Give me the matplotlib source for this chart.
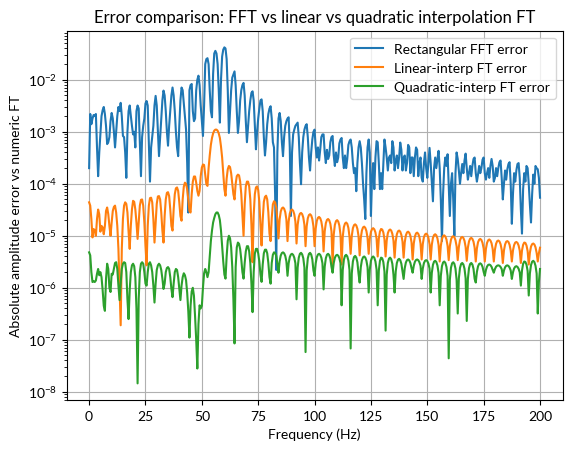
import numpy as np
import matplotlib
matplotlib.use("Agg")
import matplotlib.pyplot as plt

plt.rcParams['font.family'] = ['Lato', 'DejaVu Sans']
plt.rcParams['mathtext.fontset'] = 'custom'
plt.rcParams['mathtext.rm'] = 'Lato'
plt.rcParams['mathtext.it'] = 'Lato:italic'
plt.rcParams['mathtext.bf'] = 'Lato:bold'
plt.rcParams['axes.unicode_minus'] = True

# Frequency grid (Hz), 0.5 Hz spacing from 0 to 200
freq_step = 0.5
n_points = 401

# Rectangular FFT error (blue)
rect_err = [
    2.0e-4, 2.2e-3, 1.4e-3, 1.8e-3, 2.1e-3, 2.0e-3, 2.2e-3, 5.0e-4,
    1.4e-4, 4.0e-4, 8.9e-4, 2.0e-3, 2.6e-3, 3.0e-3, 2.2e-3, 1.3e-3,
    5.8e-4, 6.3e-4, 7.9e-4, 1.6e-3, 2.3e-3, 1.8e-3, 1.0e-3, 5.0e-4,
    1.0e-3, 2.0e-3, 3.0e-3, 2.5e-3, 3.6e-3, 2.0e-3, 8.3e-4, 7.9e-4,
    4.0e-4, 1.3e-4, 1.0e-3, 2.5e-3, 3.2e-3, 2.0e-3, 1.3e-3, 8.9e-4,
    1.0e-3, 5.0e-4, 2.5e-3, 3.2e-3, 2.8e-3, 6.3e-4, 1.4e-4, 7.9e-4,
    1.3e-3, 1.8e-3, 3.5e-3, 3.9e-3, 3.2e-3, 6.3e-4, 1.1e-4, 5.0e-4,
    7.9e-4, 1.3e-3, 3.2e-3, 4.9e-3, 3.2e-3, 1.0e-3, 3.4e-4, 7.9e-4,
    1.8e-3, 4.0e-3, 6.2e-3, 5.0e-3, 2.5e-3, 1.0e-3, 5.4e-4, 1.3e-3,
    2.5e-3, 5.0e-3, 7.1e-3, 5.0e-3, 2.5e-3, 1.0e-3, 5.0e-4, 3.4e-4,
    1.3e-3, 4.0e-3, 7.1e-3, 6.3e-3, 3.5e-3, 2.0e-3, 1.1e-3, 2.5e-4,
    2.8e-5, 6.3e-3, 7.9e-3, 8.3e-3, 2.5e-3, 1.6e-3, 1.8e-3, 6.3e-3,
    1.0e-2, 1.2e-2, 7.9e-3, 3.2e-3, 1.6e-3, 8.3e-4, 3.2e-3, 2.0e-2,
    2.5e-2, 2.6e-2, 2.0e-2, 6.3e-3, 2.5e-3, 1.9e-3, 1.3e-2, 3.2e-2,
    3.6e-2, 3.2e-2, 2.0e-2, 6.3e-3, 1.5e-3, 1.0e-2, 2.8e-2, 3.8e-2,
    4.2e-2, 4.0e-2, 2.5e-2, 6.3e-3, 9.5e-4, 2.5e-3, 6.3e-3, 1.1e-2,
    1.26e-2, 1.45e-2, 7.9e-3, 2.5e-3, 9.5e-4, 1.6e-3, 4.0e-3, 6.3e-3,
    7.9e-3, 8.7e-3, 5.0e-3, 1.6e-3, 6.3e-4, 1.3e-3, 2.5e-3, 4.0e-3,
    5.6e-3, 6.0e-3, 4.0e-3, 1.3e-3, 4.6e-4, 1.0e-3, 1.8e-3, 2.8e-3,
    4.0e-3, 4.2e-3, 2.5e-3, 7.9e-4, 3.5e-4, 6.3e-4, 1.4e-3, 2.2e-3,
    2.8e-3, 3.1e-3, 1.8e-3, 6.3e-4, 5.0e-4, 6.3e-5, 2.2e-6, 4.0e-4,
    1.8e-3, 2.3e-3, 1.6e-3, 6.3e-4, 3.4e-4, 7.9e-4, 1.3e-3, 1.6e-3,
    1.8e-3, 1.9e-3, 5.0e-4, 2.4e-5, 4.0e-4, 8.9e-4, 1.1e-3, 1.3e-3,
    1.4e-3, 1.5e-3, 7.9e-4, 2.5e-4, 9.8e-5, 4.0e-4, 7.9e-4, 1.1e-3,
    1.3e-3, 1.4e-3, 7.9e-4, 3.2e-4, 1.8e-4, 4.0e-4, 7.1e-4, 1.0e-3,
    1.1e-3, 5.0e-4, 3.2e-4, 5.0e-4, 2.8e-4, 4.5e-4, 7.9e-4, 8.9e-4,
    8.9e-4, 4.0e-4, 2.5e-4, 4.5e-4, 3.0e-4, 3.5e-4, 6.3e-4, 7.9e-4,
    8.3e-4, 3.5e-4, 2.2e-4, 4.0e-4, 2.6e-4, 3.2e-4, 6.0e-4, 7.1e-4,
    7.6e-4, 3.2e-4, 2.0e-4, 3.5e-4, 2.0e-4, 3.0e-4, 5.6e-4, 6.6e-4,
    7.1e-4, 5.0e-4, 2.5e-4, 1.6e-4, 2.0e-4, 7.2e-5, 2.5e-4, 5.0e-4,
    6.6e-4, 5.0e-4, 2.5e-4, 1.0e-4, 5.0e-5, 2.1e-5, 1.6e-4, 5.0e-4,
    7.1e-4, 4.0e-4, 2.4e-5, 1.3e-4, 2.5e-4, 7.9e-5, 3.2e-4, 6.6e-4,
    6.3e-4, 2.5e-4, 7.9e-5, 1.6e-4, 7.9e-5, 2.5e-4, 7.1e-4, 5.0e-4,
    3.2e-4, 1.8e-4, 3.2e-4, 3.5e-4, 2.5e-4, 6.6e-4, 5.0e-4, 1.8e-4,
    2.8e-4, 3.5e-4, 2.0e-4, 3.2e-4, 6.2e-4, 4.5e-4, 1.8e-4, 3.2e-4,
    3.5e-4, 1.8e-4, 2.5e-4, 5.6e-4, 5.0e-4, 1.6e-4, 3.2e-4, 3.2e-4,
    1.4e-4, 3.2e-4, 5.0e-4, 4.5e-4, 1.4e-4, 2.5e-4, 3.2e-4, 1.3e-4,
    1.1e-4, 2.5e-4, 4.0e-4, 2.0e-4, 1.3e-4, 2.5e-4, 4.9e-4, 2.5e-4,
    1.05e-4, 4.6e-5, 2.0e-4, 3.2e-4, 2.0e-4, 3.0e-4, 4.3e-4, 2.0e-4,
    5.0e-5, 7.9e-6, 6.3e-5, 2.0e-4, 3.2e-4, 2.2e-4, 3.7e-4, 1.0e-4,
    2.4e-5, 1.0e-4, 1.6e-4, 5.0e-5, 1.0e-5, 1.6e-4, 4.0e-4, 3.0e-4,
    1.8e-4, 1.0e-4, 1.6e-4, 2.4e-4, 1.6e-4, 2.8e-4, 3.8e-4, 2.0e-4,
    1.2e-4, 1.6e-4, 2.2e-4, 1.4e-4, 2.2e-4, 3.0e-4, 3.2e-4, 1.6e-4,
    1.1e-4, 1.5e-4, 2.2e-4, 1.6e-4, 2.0e-4, 2.9e-4, 3.2e-4, 1.6e-4,
    1.2e-4, 1.6e-4, 2.0e-4, 1.3e-4, 2.2e-4, 3.0e-4, 2.2e-4, 1.1e-4,
    1.3e-4, 2.0e-4, 1.4e-4, 2.0e-4, 2.6e-4, 2.8e-4, 1.3e-4, 5.0e-5,
    1.0e-4, 1.8e-4, 1.2e-4, 1.9e-4, 2.4e-4, 2.6e-4, 1.0e-4, 1.7e-5,
    6.3e-5, 1.6e-4, 1.1e-4, 1.8e-4, 2.4e-4, 2.5e-4, 1.3e-4, 3.2e-5,
    1.1e-5, 7.9e-5, 1.6e-4, 1.1e-4, 2.2e-4, 2.0e-4, 1.0e-4, 4.0e-5,
    1.8e-5, 6.3e-5, 1.5e-4, 1.0e-4, 2.2e-4, 2.0e-4, 1.9e-4, 1.3e-4,
    5.4e-5,
]

# Linear-interpolation FT error (orange)
lin_err = [
    4.4e-5, 3.8e-5, 2.1e-5, 9.3e-6, 1.35e-5, 1.26e-5, 1.0e-5, 2.1e-5,
    3.2e-5, 2.6e-5, 1.2e-5, 1.55e-5, 1.45e-5, 1.07e-5, 1.55e-5, 3.0e-5,
    3.5e-5, 2.6e-5, 1.55e-5, 1.0e-5, 1.8e-5, 3.0e-5, 3.6e-5, 3.8e-5,
    2.8e-5, 1.55e-5, 5.6e-6, 1.1e-6, 1.9e-7, 5.6e-6, 2.1e-5, 3.8e-5,
    4.4e-5, 4.1e-5, 2.8e-5, 1.2e-5, 5.6e-6, 1.55e-5, 3.2e-5, 4.7e-5,
    4.5e-5, 3.2e-5, 1.8e-5, 8.7e-6, 1.8e-5, 3.8e-5, 4.9e-5, 5.0e-5,
    3.8e-5, 1.8e-5, 6.5e-6, 2.7e-6, 1.55e-5, 3.8e-5, 5.3e-5, 5.4e-5,
    4.4e-5, 2.1e-5, 7.4e-6, 1.8e-5, 4.1e-5, 5.7e-5, 5.8e-5, 5.0e-5,
    2.8e-5, 1.26e-5, 7.4e-6, 2.4e-5, 5.0e-5, 6.7e-5, 6.9e-5, 5.8e-5,
    3.2e-5, 1.55e-5, 1.26e-5, 3.2e-5, 6.3e-5, 8.2e-5, 8.5e-5, 7.3e-5,
    4.4e-5, 2.4e-5, 1.95e-5, 5.0e-5, 8.8e-5, 1.05e-4, 1.0e-4, 7.8e-5,
    5.0e-5, 3.0e-5, 2.8e-5, 6.3e-5, 1.1e-4, 1.38e-4, 1.38e-4, 1.05e-4,
    7.3e-5, 5.9e-5, 7.3e-5, 1.4e-4, 2.05e-4, 2.35e-4, 2.3e-4, 1.5e-4,
    9.8e-5, 9.1e-5, 2.0e-4, 3.5e-4, 5.6e-4, 7.6e-4, 9.3e-4, 1.05e-3,
    1.1e-3, 1.1e-3, 1.05e-3, 9.3e-4, 7.6e-4, 5.2e-4, 3.2e-4, 1.6e-4,
    7.9e-5, 5.9e-5, 1.26e-4, 1.9e-4, 2.2e-4, 2.1e-4, 1.6e-4, 1.0e-4,
    6.3e-5, 5.0e-5, 1.0e-4, 1.4e-4, 1.5e-4, 1.45e-4, 1.1e-4, 6.3e-5,
    2.5e-5, 1.0e-5, 4.0e-5, 8.9e-5, 1.1e-4, 1.1e-4, 8.9e-5, 5.0e-5,
    1.6e-5, 3.1e-6, 2.5e-5, 6.3e-5, 8.5e-5, 8.9e-5, 7.6e-5, 4.5e-5,
    1.6e-5, 6.5e-6, 2.0e-5, 4.5e-5, 5.6e-5, 5.9e-5, 5.0e-5, 2.8e-5,
    1.1e-5, 7.9e-6, 2.2e-5, 4.0e-5, 4.6e-5, 4.4e-5, 3.5e-5, 2.0e-5,
    8.9e-6, 20.6e-6, 29.3e-6, 33.7e-6, 35.0e-6, 33.2e-6, 28.5e-6, 20.6e-6,
    7.9e-6, 18.7e-6, 26.7e-6, 30.8e-6, 32.0e-6, 30.3e-6, 26.0e-6, 18.7e-6,
    7.1e-6, 16.3e-6, 23.0e-6, 26.5e-6, 27.5e-6, 26.1e-6, 22.4e-6, 16.3e-6,
    6.3e-6, 15.2e-6, 21.7e-6, 25.0e-6, 26.0e-6, 24.6e-6, 21.1e-6, 15.2e-6,
    6.3e-6, 13.8e-6, 19.3e-6, 22.2e-6, 23.0e-6, 21.8e-6, 18.8e-6, 13.8e-6,
    5.0e-6, 12.2e-6, 17.5e-6, 20.2e-6, 21.0e-6, 19.9e-6, 17.0e-6, 12.2e-6,
    2.8e-6, 10.5e-6, 16.2e-6, 19.1e-6, 20.0e-6, 18.8e-6, 15.7e-6, 10.5e-6,
    2.8e-6, 9.6e-6, 14.7e-6, 17.2e-6, 18.0e-6, 17.0e-6, 14.2e-6, 9.6e-6,
    4.5e-6, 9.9e-6, 14.0e-6, 16.0e-6, 16.6e-6, 15.8e-6, 13.6e-6, 9.9e-6,
    4.2e-6, 9.1e-6, 12.6e-6, 14.5e-6, 15.0e-6, 14.2e-6, 12.3e-6, 9.1e-6,
    4.5e-6, 8.8e-6, 11.9e-6, 13.5e-6, 14.0e-6, 13.3e-6, 11.6e-6, 8.8e-6,
    4.0e-6, 8.8e-6, 12.1e-6, 13.5e-6, 13.2e-6, 11.6e-6, 8.6e-6,
    4.0e-6, 8.1e-6, 11.2e-6, 12.7e-6, 13.2e-6, 12.6e-6, 10.9e-6, 8.1e-6,
    3.8e-6, 7.8e-6, 10.7e-6, 12.2e-6, 12.6e-6, 12.0e-6, 10.4e-6, 7.8e-6,
    3.8e-6, 7.5e-6, 10.2e-6, 11.6e-6, 12.0e-6, 11.4e-6, 10.0e-6, 7.5e-6,
    3.5e-6, 7.1e-6, 9.7e-6, 11.1e-6, 11.5e-6, 10.9e-6, 9.5e-6, 7.1e-6,
    3.5e-6, 6.9e-6, 9.4e-6, 10.6e-6, 11.0e-6, 10.5e-6, 9.1e-6, 6.9e-6,
    3.5e-6, 6.7e-6, 9.1e-6, 10.3e-6, 10.7e-6, 10.2e-6, 8.9e-6, 6.7e-6,
    3.2e-6, 6.4e-6, 8.7e-6, 9.9e-6, 10.2e-6, 9.7e-6, 8.5e-6, 6.4e-6,
    3.4e-6, 6.3e-6, 8.4e-6, 9.5e-6, 9.8e-6, 9.4e-6, 8.2e-6, 6.3e-6,
    3.4e-6, 6.1e-6, 8.2e-6, 9.2e-6, 9.5e-6, 9.1e-6, 8.0e-6, 6.1e-6,
    3.3e-6, 5.9e-6, 7.8e-6, 8.8e-6, 9.1e-6, 8.7e-6, 7.7e-6, 5.9e-6,
    3.2e-6, 5.7e-6, 7.5e-6, 8.4e-6, 8.7e-6, 8.3e-6, 7.3e-6, 5.7e-6,
    3.2e-6, 5.6e-6, 7.3e-6, 8.2e-6, 8.5e-6, 8.1e-6, 7.2e-6, 5.6e-6,
    3.2e-6, 5.4e-6, 7.0e-6, 7.9e-6, 8.1e-6, 7.8e-6, 6.9e-6, 5.4e-6,
    3.0e-6, 5.2e-6, 6.8e-6, 7.7e-6, 7.9e-6, 7.6e-6, 6.7e-6, 5.2e-6,
    3.2e-6, 5.2e-6, 6.6e-6, 7.4e-6, 7.6e-6, 7.3e-6, 6.5e-6, 5.2e-6,
    3.0e-6, 5.2e-6, 6.7e-6, 7.4e-6, 7.3e-6, 6.5e-6, 5.1e-6,
    2.8e-6, 4.7e-6, 6.2e-6, 6.9e-6, 7.1e-6, 6.8e-6, 6.0e-6, 4.7e-6,
    3.2e-6, 4.6e-6, 5.9e-6,
]

# Quadratic-interpolation FT error (green)
quad_err = [
    4.8e-6, 4.2e-6, 2.0e-6, 1.29e-6, 1.33e-6, 1.29e-6, 1.38e-6, 1.86e-6,
    2.3e-6, 1.74e-6, 2.0e-6, 1.6e-6, 9.0e-7, 4.5e-7, 3.6e-7, 1.5e-6,
    2.9e-6, 2.3e-6, 1.0e-6, 8.3e-7, 1.86e-6, 1.8e-6, 2.3e-6, 3.0e-6,
    3.1e-6, 2.3e-6, 1.1e-6, 5.8e-7, 1.2e-6, 2.3e-6, 2.9e-6, 3.1e-6,
    3.0e-6, 2.0e-6, 6.0e-7, 2.5e-7, 9.0e-7, 2.0e-6, 2.7e-6, 2.9e-6,
    2.6e-6, 1.6e-6, 4.0e-7, 1.45e-8, 6.2e-7, 2.0e-6, 2.9e-6, 3.1e-6,
    2.9e-6, 2.0e-6, 1.2e-6, 1.1e-6, 2.0e-6, 2.9e-6, 3.1e-6, 2.7e-6,
    2.0e-6, 1.1e-6, 5.2e-7, 1.2e-6, 2.2e-6, 2.7e-6, 2.9e-6, 2.7e-6,
    2.2e-6, 1.5e-6, 9.5e-7, 1.2e-6, 2.0e-6, 2.4e-6, 2.5e-6, 2.3e-6,
    1.6e-6, 9.5e-7, 6.6e-7, 1.2e-6, 2.0e-6, 2.3e-6, 2.2e-6, 1.6e-6,
    9.5e-7, 5.8e-7, 1.1e-6, 1.6e-6, 1.9e-6, 1.74e-6, 1.4e-6, 8.0e-7,
    3.5e-7, 1.1e-7, 4.5e-7, 8.5e-7, 1.0e-6, 7.0e-7, 2.8e-7, 1.0e-7,
    2.8e-8, 2.0e-7, 4.6e-7, 4.0e-7, 4.5e-7, 1.0e-6, 1.9e-6, 2.3e-6,
    2.0e-6, 1.6e-6, 2.0e-6, 4.0e-6, 7.9e-6, 1.26e-5, 1.8e-5, 2.2e-5,
    2.6e-5, 2.8e-5, 2.8e-5, 2.5e-5, 2.0e-5, 1.26e-5, 6.3e-6, 3.2e-6,
    1.8e-6, 1.5e-6, 4.0e-6, 8.0e-6, 1.0e-5, 9.0e-6, 6.0e-6, 2.5e-6,
    6.0e-7, 8.5e-8, 2.5e-6, 6.0e-6, 7.4e-6, 7.0e-6, 5.5e-6, 3.5e-6,
    2.0e-6, 1.5e-6, 3.0e-6, 5.0e-6, 6.3e-6, 6.3e-6, 5.0e-6, 3.0e-6,
    1.2e-6, 3.4e-7, 2.0e-6, 4.5e-6, 5.6e-6, 5.6e-6, 4.6e-6, 3.2e-6,
    1.8e-6, 1.3e-6, 2.8e-6, 4.6e-6, 5.4e-6, 5.4e-6, 4.6e-6, 3.0e-6,
    1.6e-6,
    1.2e-6, 3.0e-6, 4.3e-6, 4.8e-6, 4.7e-6, 4.1e-6, 2.9e-6,
    1.95e-6, 3.23e-6, 4.17e-6, 4.66e-6, 4.8e-6, 4.6e-6, 4.1e-6, 3.23e-6,
    1.7e-6, 2.96e-6, 3.88e-6, 4.36e-6, 4.5e-6, 4.3e-6, 3.8e-6, 2.96e-6,
    0.6e-6, 2.45e-6, 3.8e-6, 4.5e-6, 4.7e-6, 4.4e-6, 3.7e-6, 2.45e-6,
    0.058e-6, 2.15e-6, 3.68e-6, 4.47e-6, 4.7e-6, 4.37e-6, 3.54e-6, 2.15e-6,
    1.7e-6, 2.96e-6, 3.88e-6, 4.36e-6, 4.5e-6, 4.3e-6, 3.8e-6, 2.96e-6,
    0.93e-6, 2.54e-6, 3.71e-6, 4.32e-6, 4.5e-6, 4.25e-6, 3.61e-6, 2.54e-6,
    1.95e-6, 3.0e-6, 3.78e-6, 4.18e-6, 4.3e-6, 4.14e-6, 3.71e-6, 3.0e-6,
    0.46e-6, 2.19e-6, 3.46e-6, 4.11e-6, 4.3e-6, 4.03e-6, 3.34e-6, 2.19e-6,
    0.068e-6, 1.88e-6, 3.21e-6, 3.9e-6, 4.1e-6, 3.82e-6, 3.09e-6, 1.88e-6,
    1.26e-6, 2.49e-6, 3.4e-6, 3.86e-6, 4.0e-6, 3.81e-6, 3.32e-6, 2.49e-6,
    0.81e-6, 2.25e-6, 3.3e-6, 3.84e-6, 4.0e-6, 3.78e-6, 3.2e-6, 2.25e-6,
    0.46e-6, 2.13e-6, 3.3e-6, 3.8e-6, 3.7e-6, 3.13e-6, 2.06e-6,
    0.15e-6, 1.79e-6, 3.0e-6, 3.62e-6, 3.8e-6, 3.54e-6, 2.89e-6, 1.79e-6,
    0.81e-6, 2.07e-6, 2.99e-6, 3.46e-6, 3.6e-6, 3.4e-6, 2.9e-6, 2.07e-6,
    1.48e-6, 2.39e-6, 3.06e-6, 3.4e-6, 3.5e-6, 3.36e-6, 3.0e-6, 2.39e-6,
    1.95e-6, 2.65e-6, 3.16e-6, 3.42e-6, 3.5e-6, 3.39e-6, 3.11e-6, 2.65e-6,
    1.48e-6, 2.34e-6, 2.98e-6, 3.3e-6, 3.4e-6, 3.27e-6, 2.92e-6, 2.34e-6,
    0.81e-6, 1.93e-6, 2.75e-6, 3.18e-6, 3.3e-6, 3.13e-6, 2.68e-6, 1.93e-6,
    0.46e-6, 1.69e-6, 2.6e-6, 3.06e-6, 3.2e-6, 3.01e-6, 2.52e-6, 1.69e-6,
    0.044e-6, 1.42e-6, 2.43e-6, 2.95e-6, 3.1e-6, 2.89e-6, 2.34e-6, 1.42e-6,
    0.32e-6, 1.53e-6, 2.41e-6, 2.87e-6, 3.0e-6, 2.81e-6, 2.33e-6, 1.53e-6,
    0.23e-6, 1.48e-6, 2.39e-6, 2.86e-6, 3.0e-6, 2.81e-6, 2.31e-6, 1.48e-6,
    1.26e-6, 2.02e-6, 2.58e-6, 2.87e-6, 2.95e-6, 2.83e-6, 2.53e-6, 2.02e-6,
    1.7e-6, 2.2e-6, 2.56e-6, 2.75e-6, 2.8e-6, 2.72e-6, 2.53e-6, 2.2e-6,
    1.95e-6, 2.29e-6, 2.54e-6, 2.66e-6, 2.7e-6, 2.65e-6, 2.51e-6, 2.29e-6,
    1.7e-6, 2.15e-6, 2.48e-6, 2.65e-6, 2.7e-6, 2.63e-6, 2.45e-6, 2.15e-6,
    1.48e-6, 1.98e-6, 2.35e-6, 2.54e-6, 2.6e-6, 2.52e-6, 2.32e-6, 1.98e-6,
    1.1e-6, 2.15e-6, 2.89e-6, 3.2e-6, 3.14e-6, 2.78e-6, 2.11e-6,
    0.71e-6, 1.88e-6, 2.73e-6, 3.17e-6, 3.3e-6, 3.12e-6, 2.65e-6, 1.88e-6,
    0.32e-6, 1.3e-6, 2.3e-6,
]

series_labels = ["Rectangular FFT error", "Linear-interp FT error",
                 "Quadratic-interp FT error"]
title_text = "Error comparison: FFT vs linear vs quadratic interpolation FT"

assert len(rect_err) == n_points, len(rect_err)
assert len(lin_err) == n_points, len(lin_err)
assert len(quad_err) == n_points, len(quad_err)

freq = np.arange(n_points) * freq_step

fig, ax = plt.subplots(figsize=(6.4, 4.8), dpi=100)
ax.semilogy(freq, rect_err, label=series_labels[0])
ax.semilogy(freq, lin_err, label=series_labels[1])
ax.semilogy(freq, quad_err, label=series_labels[2])
ax.set_xlabel("Frequency (Hz)")
ax.set_ylabel("Absolute amplitude error vs numeric FT")
ax.set_title(title_text)
ax.grid(True)
ax.legend(loc="upper right")
fig.savefig("out.png", dpi=100, bbox_inches="tight")
